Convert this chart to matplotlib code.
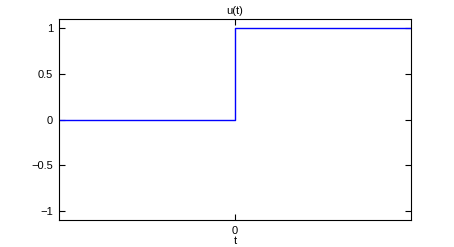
import matplotlib
matplotlib.use("Agg")
import matplotlib.pyplot as plt

# unit step u(t)
t = [-1, 0, 0, 1]
u = [0, 0, 1, 1]
xticks = [0]
yticks = [-1, -0.5, 0, 0.5, 1]
yticklabels = ["\u22121", "\u22120.5", "0", "0.5", "1"]

plt.rcParams['font.family'] = ['Liberation Sans', 'DejaVu Sans']
plt.rcParams['font.size'] = 8

fig = plt.figure(figsize=(4.54, 2.47), dpi=100)
ax = fig.add_axes([58.5/454, 1 - 220/247, (411.3-58.5)/454, (220-19.3)/247])
ax.plot(t, u, color=(0, 0, 1), linewidth=1)
ax.set_xlim(-1, 1)
ax.set_ylim(-1.1, 1.1)
ax.set_xticks(xticks)
ax.set_yticks(yticks)
ax.set_yticklabels(yticklabels)
ax.tick_params(direction='in', top=True, right=True, length=4, width=0.8, pad=4)
for s in ax.spines.values():
    s.set_linewidth(0.8)
ax.set_title("u(t)", fontsize=8, pad=4)
ax.set_xlabel("t", labelpad=0)

fig.savefig("out.png", dpi=100)
